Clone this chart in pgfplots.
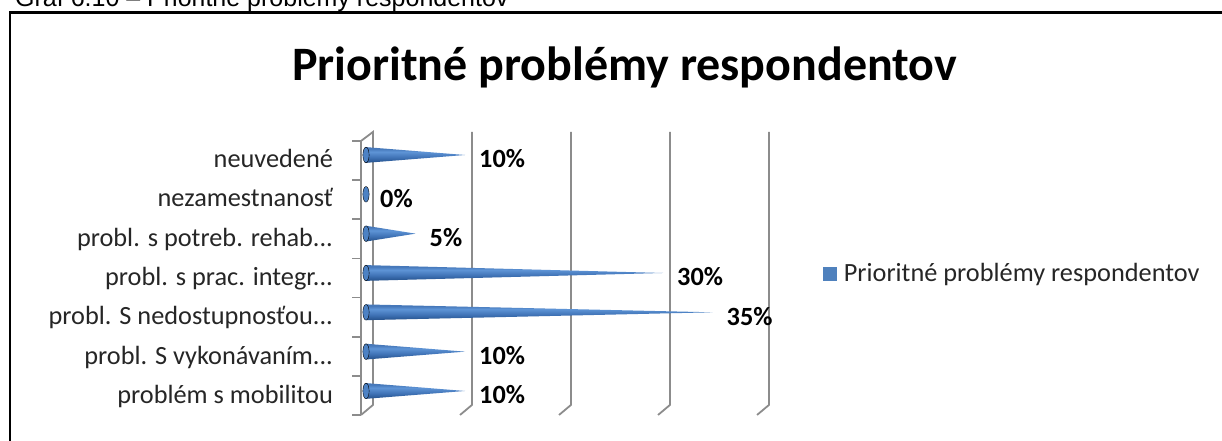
\documentclass[border=0pt]{standalone}
\usepackage{pgfplots}
\pgfplotsset{compat=1.18}
\usepackage{fontspec}
\setmainfont{Carlito}
\newfontfamily\capfont{Liberation Sans}
\definecolor{cblue}{HTML}{4F81BD}
\definecolor{ctop}{HTML}{4678BA}
\definecolor{chi}{HTML}{5E94D6}
\definecolor{cmid}{HTML}{3F72B5}
\definecolor{cdark}{HTML}{24508A}
\definecolor{cbase}{HTML}{4D82C4}
\definecolor{gridc}{HTML}{8C8C8C}
\pgfdeclareverticalshading{conesh}{100bp}{color(0bp)=(cdark); color(25bp)=(cdark); color(42bp)=(cmid); color(60bp)=(chi); color(70bp)=(ctop); color(75bp)=(ctop); color(100bp)=(ctop)}
\newcommand{\dd}{{.}{.}{.}}
\begin{document}
\begin{tikzpicture}
\useasboundingbox (0,0) rectangle (1222pt,441pt);
\clip (0,0) rectangle (1222pt,441pt);
\fill[white] (0,0) rectangle (1222pt,441pt);
\node[anchor=base west, inner sep=0pt, font=\capfont\fontsize{25}{30}\selectfont] at (15pt,434pt) {Graf 6.10 – Prioritné problémy respondentov};
\draw[line width=2.5pt] (10pt,-5pt) -- (10pt,428.5pt) -- (1240pt,428.5pt);
\node[anchor=base, inner sep=0pt, font=\bfseries\fontsize{48}{56}\selectfont] at (624.5pt,360pt) {Prioritné problémy respondentov};
\begin{axis}[
  at={(351.15pt,22.5pt)}, anchor=south west,
  scale only axis, width=420.75pt, height=291.04pt,
  xmin=-1.5, xmax=41, ymin=-0.7, ymax=6.7,
  clip=false,
  /pgf/number format/assume math mode=true,
  axis lines=left, axis line style={draw=none,-},
  xtick=\empty, ytick={0,1,2,3,4,5,6},
  yticklabels={problém s mobilitou, probl. S vykonávaním\dd, probl. S nedostupnosťou\dd, probl. s prac. integr\dd, probl. s potreb. rehab\dd, nezamestnanosť, neuvedené},
  major tick length=0pt,
  yticklabel style={font=\fontsize{26.3}{30}\selectfont, text=black!85, anchor=east, inner sep=0pt, text height=19pt, text depth=6pt, xshift=-18pt, yshift=-6pt},
  legend style={draw=none, fill=none, inner sep=0pt, outer sep=0pt,
    at={(1.1214,0.4983)}, anchor=west,
    font=\fontsize{26.3}{30}\selectfont, text=black!85,
    nodes={inner sep=0pt}},
  legend cell align=left,
]
\addlegendimage{legend image code/.code={\fill[cblue] (0pt,-6.5pt) rectangle (13.5pt,6.5pt); \path (20.5pt,0pt);}}
\addlegendentry{Prioritné problémy respondentov}
% 3D frame
\draw[gridc, line width=1.8pt] (axis cs:-0.5,-0.61) -- (axis cs:-0.5,6.357) -- (axis cs:0.7,6.585) -- (axis cs:0.7,-0.356) -- (axis cs:-0.5,-0.61);
\draw[gridc, line width=1.8pt] (axis cs:9.5,-0.61) -- (axis cs:10.7,-0.356) -- (axis cs:10.7,6.585);
\draw[gridc, line width=1.8pt] (axis cs:19.5,-0.61) -- (axis cs:20.7,-0.356) -- (axis cs:20.7,6.585);
\draw[gridc, line width=1.8pt] (axis cs:29.5,-0.61) -- (axis cs:30.7,-0.356) -- (axis cs:30.7,6.585);
\draw[gridc, line width=1.8pt] (axis cs:39.5,-0.61) -- (axis cs:40.7,-0.356) -- (axis cs:40.7,6.585);
\draw[gridc, line width=1.8pt] (axis cs:-1.41,-0.61) -- (axis cs:-0.5,-0.61);
\draw[gridc, line width=1.8pt] (axis cs:-1.41,0.385) -- (axis cs:-0.5,0.385);
\draw[gridc, line width=1.8pt] (axis cs:-1.41,1.38) -- (axis cs:-0.5,1.38);
\draw[gridc, line width=1.8pt] (axis cs:-1.41,2.375) -- (axis cs:-0.5,2.375);
\draw[gridc, line width=1.8pt] (axis cs:-1.41,3.37) -- (axis cs:-0.5,3.37);
\draw[gridc, line width=1.8pt] (axis cs:-1.41,4.365) -- (axis cs:-0.5,4.365);
\draw[gridc, line width=1.8pt] (axis cs:-1.41,5.36) -- (axis cs:-0.5,5.36);
\draw[gridc, line width=1.8pt] (axis cs:-1.41,6.355) -- (axis cs:-0.5,6.355);
% cones
\pgfplotsset{cone/.style={forget plot, draw=none, mark=none, shading=conesh}}
\addplot[cone] coordinates {(0,0.2) (10,0) (0,-0.2)};
\addplot[cone] coordinates {(0,1.2) (10,1) (0,0.8)};
\addplot[cone] coordinates {(0,2.2) (35,2) (0,1.8)};
\addplot[cone] coordinates {(0,3.2) (30,3) (0,2.8)};
\addplot[cone] coordinates {(0,4.2) (5,4) (0,3.8)};
\addplot[cone] coordinates {(0,6.2) (10,6) (0,5.8)};
% cone bases
\addplot[forget plot, only marks, mark=*, mark size=7.8pt, mark options={xscale=0.4, fill=cbase, draw=none}]
  coordinates {(0,0) (0,1) (0,2) (0,3) (0,4) (0,5) (0,6)};
% data labels
\addplot[forget plot, draw=none, mark=none, point meta=x,
  nodes near coords={\pgfmathprintnumber{\pgfplotspointmeta}\%},
  nodes near coords style={anchor=west, font=\bfseries\fontsize{26.3}{30}\selectfont, text=black, inner sep=0pt, xshift=14pt, yshift=-4pt}]
  coordinates {(10,0) (10,1) (35,2) (30,3) (5,4) (0,5) (10,6)};
\end{axis}
\end{tikzpicture}
\end{document}
